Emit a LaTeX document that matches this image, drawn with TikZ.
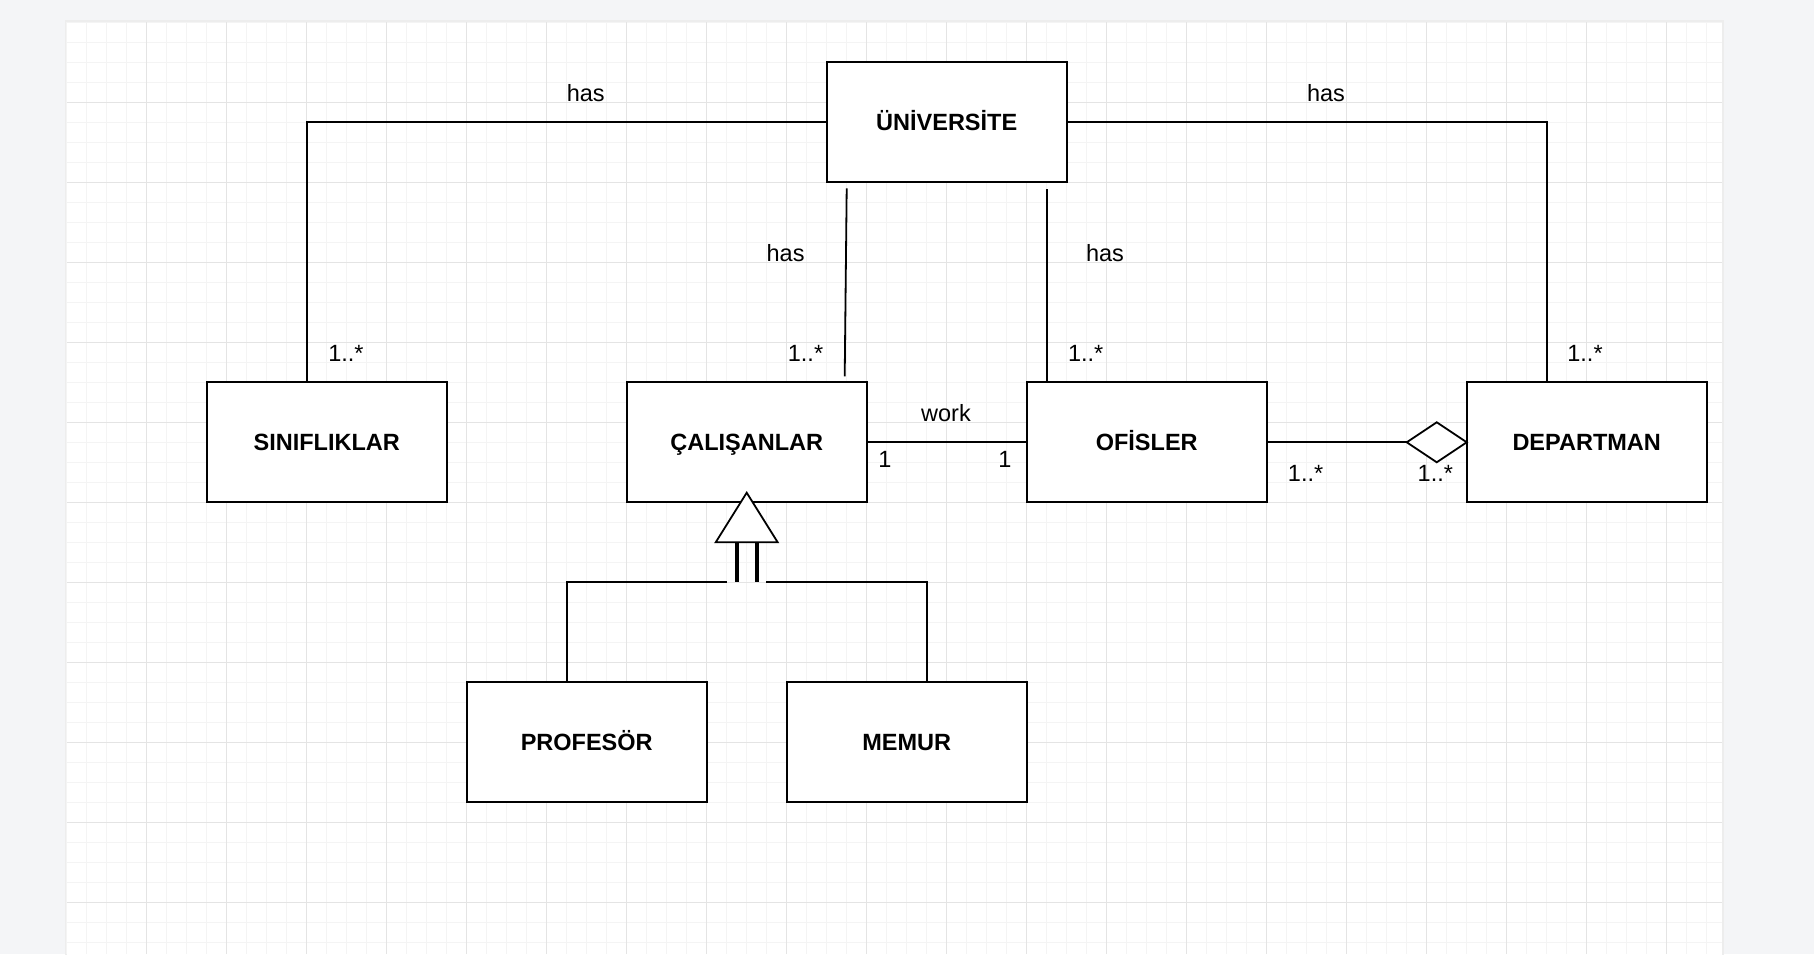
\documentclass[tikz,border=0pt]{standalone}
\usepackage{fontspec}
\setmainfont{Liberation Sans}
\usetikzlibrary{positioning,shapes.geometric}
\definecolor{pageGray}{HTML}{F4F5F7}
\definecolor{gridMajor}{HTML}{E4E4E4}
\definecolor{gridMinor}{HTML}{F4F4F4}
\tikzset{
  class node/.style={draw=black,fill=white,line width=1pt,minimum width=120pt,
    minimum height=60pt,inner sep=0pt,outer sep=0pt,text height=8.4pt,text depth=0pt,
    font=\fontsize{11.75}{14}\selectfont\bfseries},
  assoc line/.style={draw=black,line width=0.9pt},
  mult label/.style={font=\fontsize{11.75}{14}\selectfont,anchor=base,inner sep=0pt},
  minor grid/.style={draw=gridMinor,line width=0.5pt},
  major grid/.style={draw=gridMajor,line width=0.5pt}
}

\begin{document}
\begin{tikzpicture}[x=0.5pt,y=-0.5pt]
    \useasboundingbox (0,0) rectangle (1814,954);
    % page and paper
    \fill[pageGray] (0,0) rectangle (1814,954);
    \fill[black!7] (64.7,20.3) rectangle (1723.7,960);
    \fill[white] (66.7,22.3) rectangle (1721.7,960);
    \foreach \k in {0,...,82}
      \draw[minor grid] ({66.7+20*\k},22.3) -- ({66.7+20*\k},954);
    \foreach \k in {0,...,46}
      \draw[minor grid] (66.7,{22.3+20*\k}) -- (1721.7,{22.3+20*\k});
    \foreach \k in {1,...,20}
      \draw[major grid] ({66.7+80*\k},22.3) -- ({66.7+80*\k},954);
    \foreach \k in {1,...,11}
      \draw[major grid] (66.7,{22.3+80*\k}) -- (1721.7,{22.3+80*\k});

    % classes
    \node[class node] (calisan) at (746.7,442.3) {ÇALIŞANLAR};
    \node[class node,right=80pt of calisan] (ofis) {OFİSLER};
    \node[class node,right=100pt of ofis] (dept) {DEPARTMAN};
    \node[class node,left=90pt of calisan] (sinif) {SINIFLIKLAR};
    \node[class node,above=100pt of calisan,xshift=100pt] (univ) {ÜNİVERSİTE};
    \node[class node,below=90pt of calisan,xshift=-80pt] (prof) {PROFESÖR};
    \node[class node,right=40pt of prof] (memur) {MEMUR};

    % associations
    \draw[assoc line] (univ.west) -| ([xshift=-10pt]sinif.north);
    \draw[assoc line] (univ.east) -| ([xshift=-20pt]dept.north);
    \draw[assoc line] ([xshift=10pt,yshift=-3pt]univ.south west)
      -- ([xshift=-11pt,yshift=3pt]calisan.north east);
    \draw[assoc line] ([xshift=-10pt,yshift=-3.5pt]univ.south east)
      -- ([xshift=10pt]ofis.north west);
    \draw[assoc line] (calisan.east) -- (ofis.west);
    \node[diamond,draw=black,fill=white,line width=0.9pt,minimum width=30pt,
      minimum height=20pt,inner sep=0pt,outer sep=0pt,anchor=east] (agg) at (dept.west) {};
    \draw[assoc line] (ofis.east) -- (agg.west);

    % generalization
    \coordinate (apex) at ([yshift=4.8pt]calisan.south);
    \coordinate (genL) at ([xshift=-5pt,yshift=-24.8pt]apex);
    \coordinate (genR) at ([xshift=5pt,yshift=-24.8pt]apex);
    \draw[assoc line,line width=2pt] (genL) -- ([yshift=-20pt]genL);
    \draw[assoc line,line width=2pt] (genR) -- ([yshift=-20pt]genR);
    \draw[assoc line,fill=white] (apex) -- ++(-15.5pt,-24.8pt) -- ++(31pt,0pt) -- cycle;
    \draw[assoc line] ([xshift=-10pt]prof.north) |- ([xshift=-4.9pt,yshift=-20pt]genL);
    \draw[assoc line] ([xshift=10pt]memur.north) |- ([xshift=4.7pt,yshift=-20pt]genR);

    % labels
    \node[mult label] (hasSinif) at (585.8,101.7) {has};
    \node[mult label] (hasDept) at (1326,101.7) {has};
    \node[mult label] (hasCalisan) at (785.6,261.7) {has};
    \node[mult label] (hasOfis) at (1105,261.7) {has};
    \node[mult label] (mSinif) at (346,361.7) {1..*};
    \node[mult label] (mCalisan) at (805.5,361.7) {1..*};
    \node[mult label] (mOfis) at (1085.7,361.7) {1..*};
    \node[mult label] (mDept) at (1585,361.7) {1..*};
    \node[mult label] (work) at (946,421.7) {work};
    \node[mult label] (oneL) at (885,467) {1};
    \node[mult label] (oneR) at (1005,467) {1};
    \node[mult label] (mOfisAgg) at (1305.6,481) {1..*};
    \node[mult label] (mDeptAgg) at (1435.3,481) {1..*};
  \end{tikzpicture}
\end{document}
